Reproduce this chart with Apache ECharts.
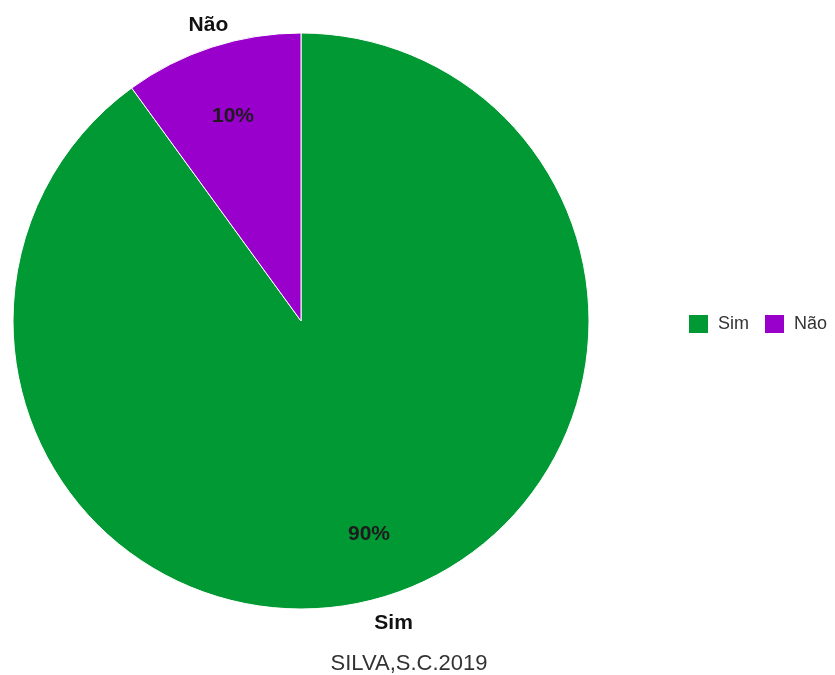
<!DOCTYPE html>
<html>
<head>
<meta charset="utf-8">
<title>Sim / Não</title>
<script src="https://cdn.jsdelivr.net/npm/echarts@6/dist/echarts.min.js"></script>
<style>
  html, body { margin: 0; padding: 0; background: #ffffff; }
  #chart { width: 835px; height: 675px; }
</style>
</head>
<body>
<div id="chart"></div>
<script>
// Answer categories and their shares (%)
const categories = ['Sim', 'Não'];
const values = [90, 10];
const colors = ['#009933', '#9900cc'];
const sourceText = 'SILVA,S.C.2019';

const FONT = 'Liberation Sans, Arial, sans-serif';
const center = [301, 321];
const labelCenter = [301, 324];

const pieData = categories.map((name, i) => ({
  name,
  value: values[i],
  itemStyle: { color: colors[i] }
}));

// Transparent rings reuse the same data so labels sit on each slice's mid-angle
const ghostData = categories.map((name, i) => ({
  name,
  value: values[i],
  itemStyle: { color: 'rgba(0,0,0,0)', borderWidth: 0 }
}));

const chart = echarts.init(document.getElementById('chart'), null, { renderer: 'canvas' });

chart.setOption({
  animation: false,
  backgroundColor: '#ffffff',
  title: {
    text: sourceText,
    left: 404,
    top: 648,
    textAlign: 'center',
    textStyle: { fontFamily: FONT, fontSize: 22, fontWeight: 'normal', color: '#333333' }
  },
  legend: {
    data: categories,
    orient: 'horizontal',
    left: 682,
    top: 308,
    itemWidth: 21,
    itemHeight: 20,
    itemGap: 14,
    icon: 'rect',
    textStyle: { fontFamily: FONT, fontSize: 18, color: '#333333', padding: [0, 0, 0, 4] }
  },
  series: [
    {
      name: 'main',
      type: 'pie',
      center: center,
      radius: [0, 288],
      startAngle: 90,
      clockwise: true,
      silent: true,
      label: { show: false },
      labelLine: { show: false },
      itemStyle: { borderColor: '#ffffff', borderWidth: 1 },
      data: pieData
    },
    {
      name: 'percent',
      type: 'pie',
      center: [301, 325],
      radius: [200, 234],
      startAngle: 90,
      clockwise: true,
      silent: true,
      legendHoverLink: false,
      label: {
        show: true,
        position: 'inside',
        formatter: p => p.value + '%',
        fontFamily: FONT,
        fontSize: 21,
        fontWeight: 'bold',
        color: '#1e1a1e'
      },
      labelLine: { show: false },
      data: ghostData
    },
    {
      name: 'names',
      type: 'pie',
      center: labelCenter,
      radius: [300, 320],
      startAngle: 89.2,
      clockwise: true,
      silent: true,
      legendHoverLink: false,
      label: {
        show: true,
        position: 'inside',
        formatter: p => p.name,
        fontFamily: FONT,
        fontSize: 21,
        fontWeight: 'bold',
        color: '#111111'
      },
      labelLine: { show: false },
      data: ghostData
    }
  ]
});
</script>
</body>
</html>
